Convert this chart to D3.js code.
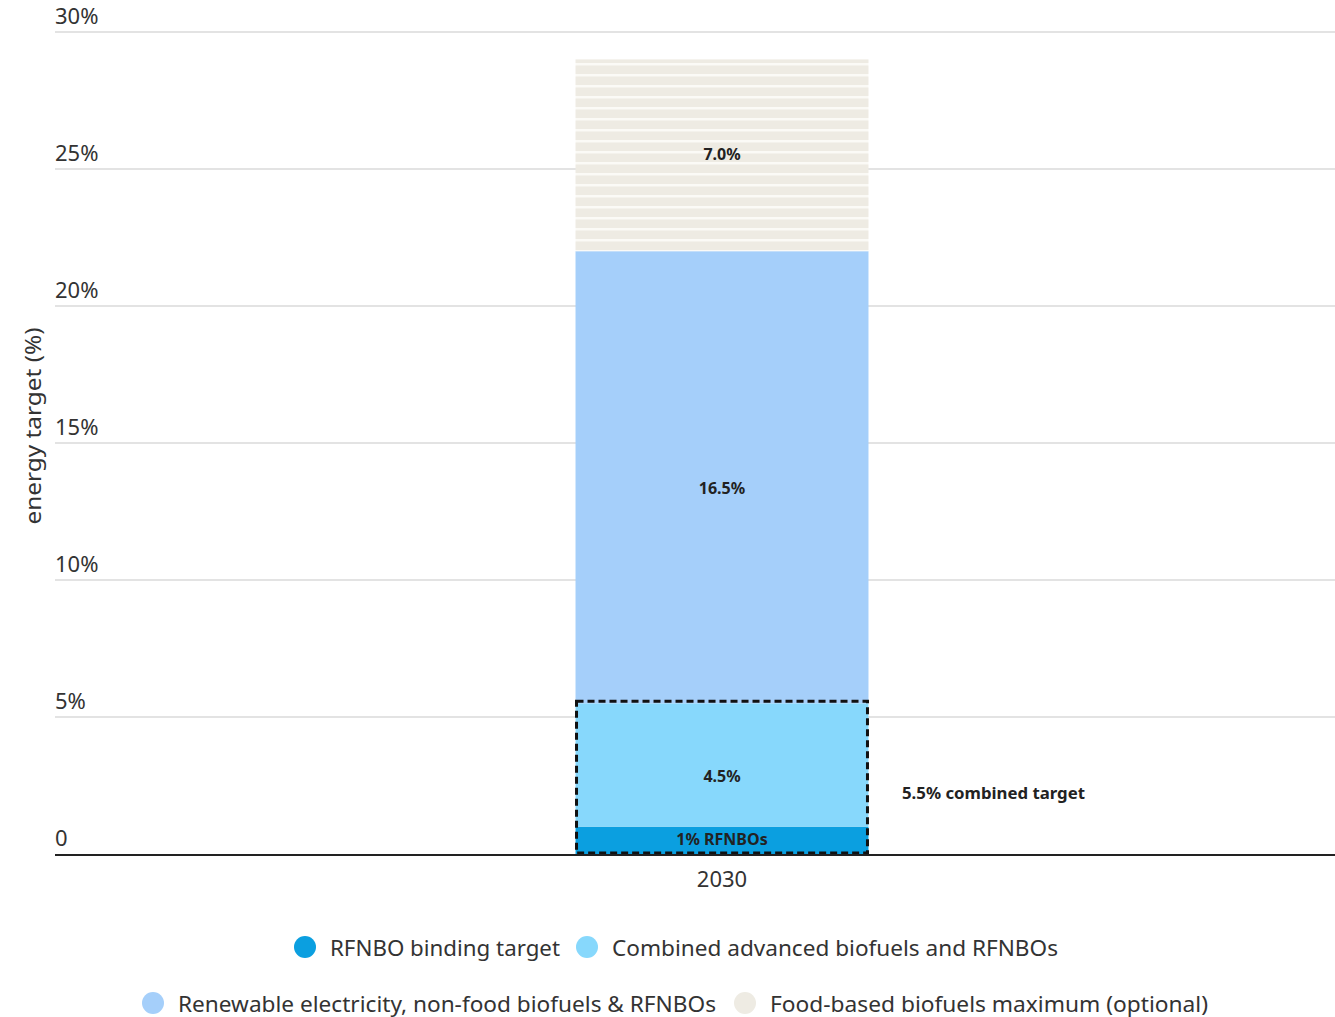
<!DOCTYPE html>
<html>
<head>
<meta charset="utf-8">
<script src="https://cdn.jsdelivr.net/npm/d3@7"></script>
<style>
  body { margin: 0; background: #fff; }
  text { font-family: "Noto Sans", "Open Sans", sans-serif; }
</style>
</head>
<body>
<svg id="chart" width="1335" height="1017"></svg>
<script>
// data
const years = ["2030"];
const segments = ["rfnbo", "combined", "renewable", "food"];
const segmentValues = [1, 4.5, 16.5, 7.0];
const segmentLabels = ["1% RFNBOs", "4.5%", "16.5%", "7.0%"];
const segmentColors = ["#0b9fe0", "#87d8fc", "#a5cffa", "#eeebe3"];
const legendNames = [
  "RFNBO binding target",
  "Combined advanced biofuels and RFNBOs",
  "Renewable electricity, non-food biofuels & RFNBOs",
  "Food-based biofuels maximum (optional)"
];
const yTicks = [0, 5, 10, 15, 20, 25, 30];
const combinedTarget = 5.5;

const svg = d3.select("#chart");
const plotLeft = 55, plotRight = 1335, plotTop = 32, plotBottom = 854;

const y = d3.scaleLinear().domain([0, 30]).range([plotBottom, plotTop]);
const x = d3.scaleBand().domain(years).range([110, 1334]).paddingOuter(1.589);

// pattern for the food-based segment
const defs = svg.append("defs");
const pat = defs.append("pattern")
  .attr("id", "stripes")
  .attr("patternUnits", "userSpaceOnUse")
  .attr("width", 10).attr("height", 11);
pat.append("rect").attr("width", 10).attr("height", 11).attr("fill", segmentColors[3]);
pat.append("rect").attr("y", 8).attr("width", 10).attr("height", 2.5).attr("fill", "#fbfaf6");

// gridlines + tick labels
const grid = svg.append("g");
grid.selectAll("line").data(yTicks.filter(d => d > 0)).join("line")
  .attr("x1", plotLeft).attr("x2", plotRight)
  .attr("y1", d => y(d)).attr("y2", d => y(d))
  .attr("stroke", "#e3e3e3").attr("stroke-width", 2);
grid.selectAll("text").data(yTicks).join("text")
  .attr("x", plotLeft).attr("y", d => y(d) - 8)
  .attr("font-size", 22).attr("fill", "#333")
  .text(d => d === 0 ? "0" : d + "%");

// axis title
svg.append("text")
  .attr("transform", `translate(41,${(plotTop + plotBottom) / 2 - 17}) rotate(-90)`)
  .attr("text-anchor", "middle")
  .attr("font-size", 22).attr("fill", "#333")
  .attr("textLength", 197).attr("lengthAdjust", "spacingAndGlyphs")
  .text("energy target (%)");

// stacked bar
let acc = 0;
const stacked = segmentValues.map((v, i) => {
  const s = { key: segments[i], y0: acc, y1: acc + v, label: segmentLabels[i], color: segmentColors[i] };
  acc += v;
  return s;
});

const bar = svg.append("g");
bar.selectAll("rect").data(stacked).join("rect")
  .attr("x", x("2030"))
  .attr("width", x.bandwidth())
  .attr("y", d => y(d.y1))
  .attr("height", d => y(d.y0) - y(d.y1))
  .attr("fill", d => d.key === "food" ? "url(#stripes)" : d.color);

bar.selectAll("text").data(stacked).join("text")
  .attr("x", x("2030") + x.bandwidth() / 2)
  .attr("y", d => (y(d.y0) + y(d.y1)) / 2 + (d.key === "rfnbo" || d.key === "food" ? -1 : 11))
  .attr("text-anchor", "middle")
  .attr("dominant-baseline", "central")
  .attr("font-size", 16).attr("font-weight", "bold").attr("fill", "#222")
  .text(d => d.label);

// dashed combined-target box
svg.append("rect")
  .attr("x", x("2030") + 1)
  .attr("width", x.bandwidth() - 2)
  .attr("y", y(combinedTarget) - 2)
  .attr("height", y(0) - y(combinedTarget) + 1)
  .attr("fill", "none")
  .attr("stroke", "#111").attr("stroke-width", 3)
  .attr("stroke-dasharray", "7,4");

svg.append("text")
  .attr("x", 902).attr("y", y(combinedTarget / 2) + 14)
  .attr("dominant-baseline", "central")
  .attr("font-size", 16).attr("font-weight", "bold").attr("fill", "#222")
  .attr("textLength", 183).attr("lengthAdjust", "spacingAndGlyphs")
  .text("5.5% combined target");

// baseline + category label
svg.append("line")
  .attr("x1", plotLeft).attr("x2", plotRight)
  .attr("y1", y(0) + 1).attr("y2", y(0) + 1)
  .attr("stroke", "#222").attr("stroke-width", 2);
svg.append("text")
  .attr("x", x("2030") + x.bandwidth() / 2).attr("y", 887)
  .attr("text-anchor", "middle")
  .attr("font-size", 22).attr("fill", "#333")
  .text(years[0]);

// legend
const legendPos = [[305, 947], [587, 947], [153, 1003], [745, 1003]];
const lg = svg.append("g");
const items = lg.selectAll("g").data(legendNames).join("g")
  .attr("transform", (d, i) => `translate(${legendPos[i][0]},${legendPos[i][1]})`);
items.append("circle").attr("r", 11).attr("fill", (d, i) => segmentColors[i]);
items.append("text")
  .attr("x", 25).attr("dominant-baseline", "central")
  .attr("font-size", 22).attr("fill", "#333")
  .attr("textLength", (d, i) => [230, 446, 538, 438][i])
  .attr("lengthAdjust", "spacingAndGlyphs")
  .text(d => d);
</script>
</body>
</html>
